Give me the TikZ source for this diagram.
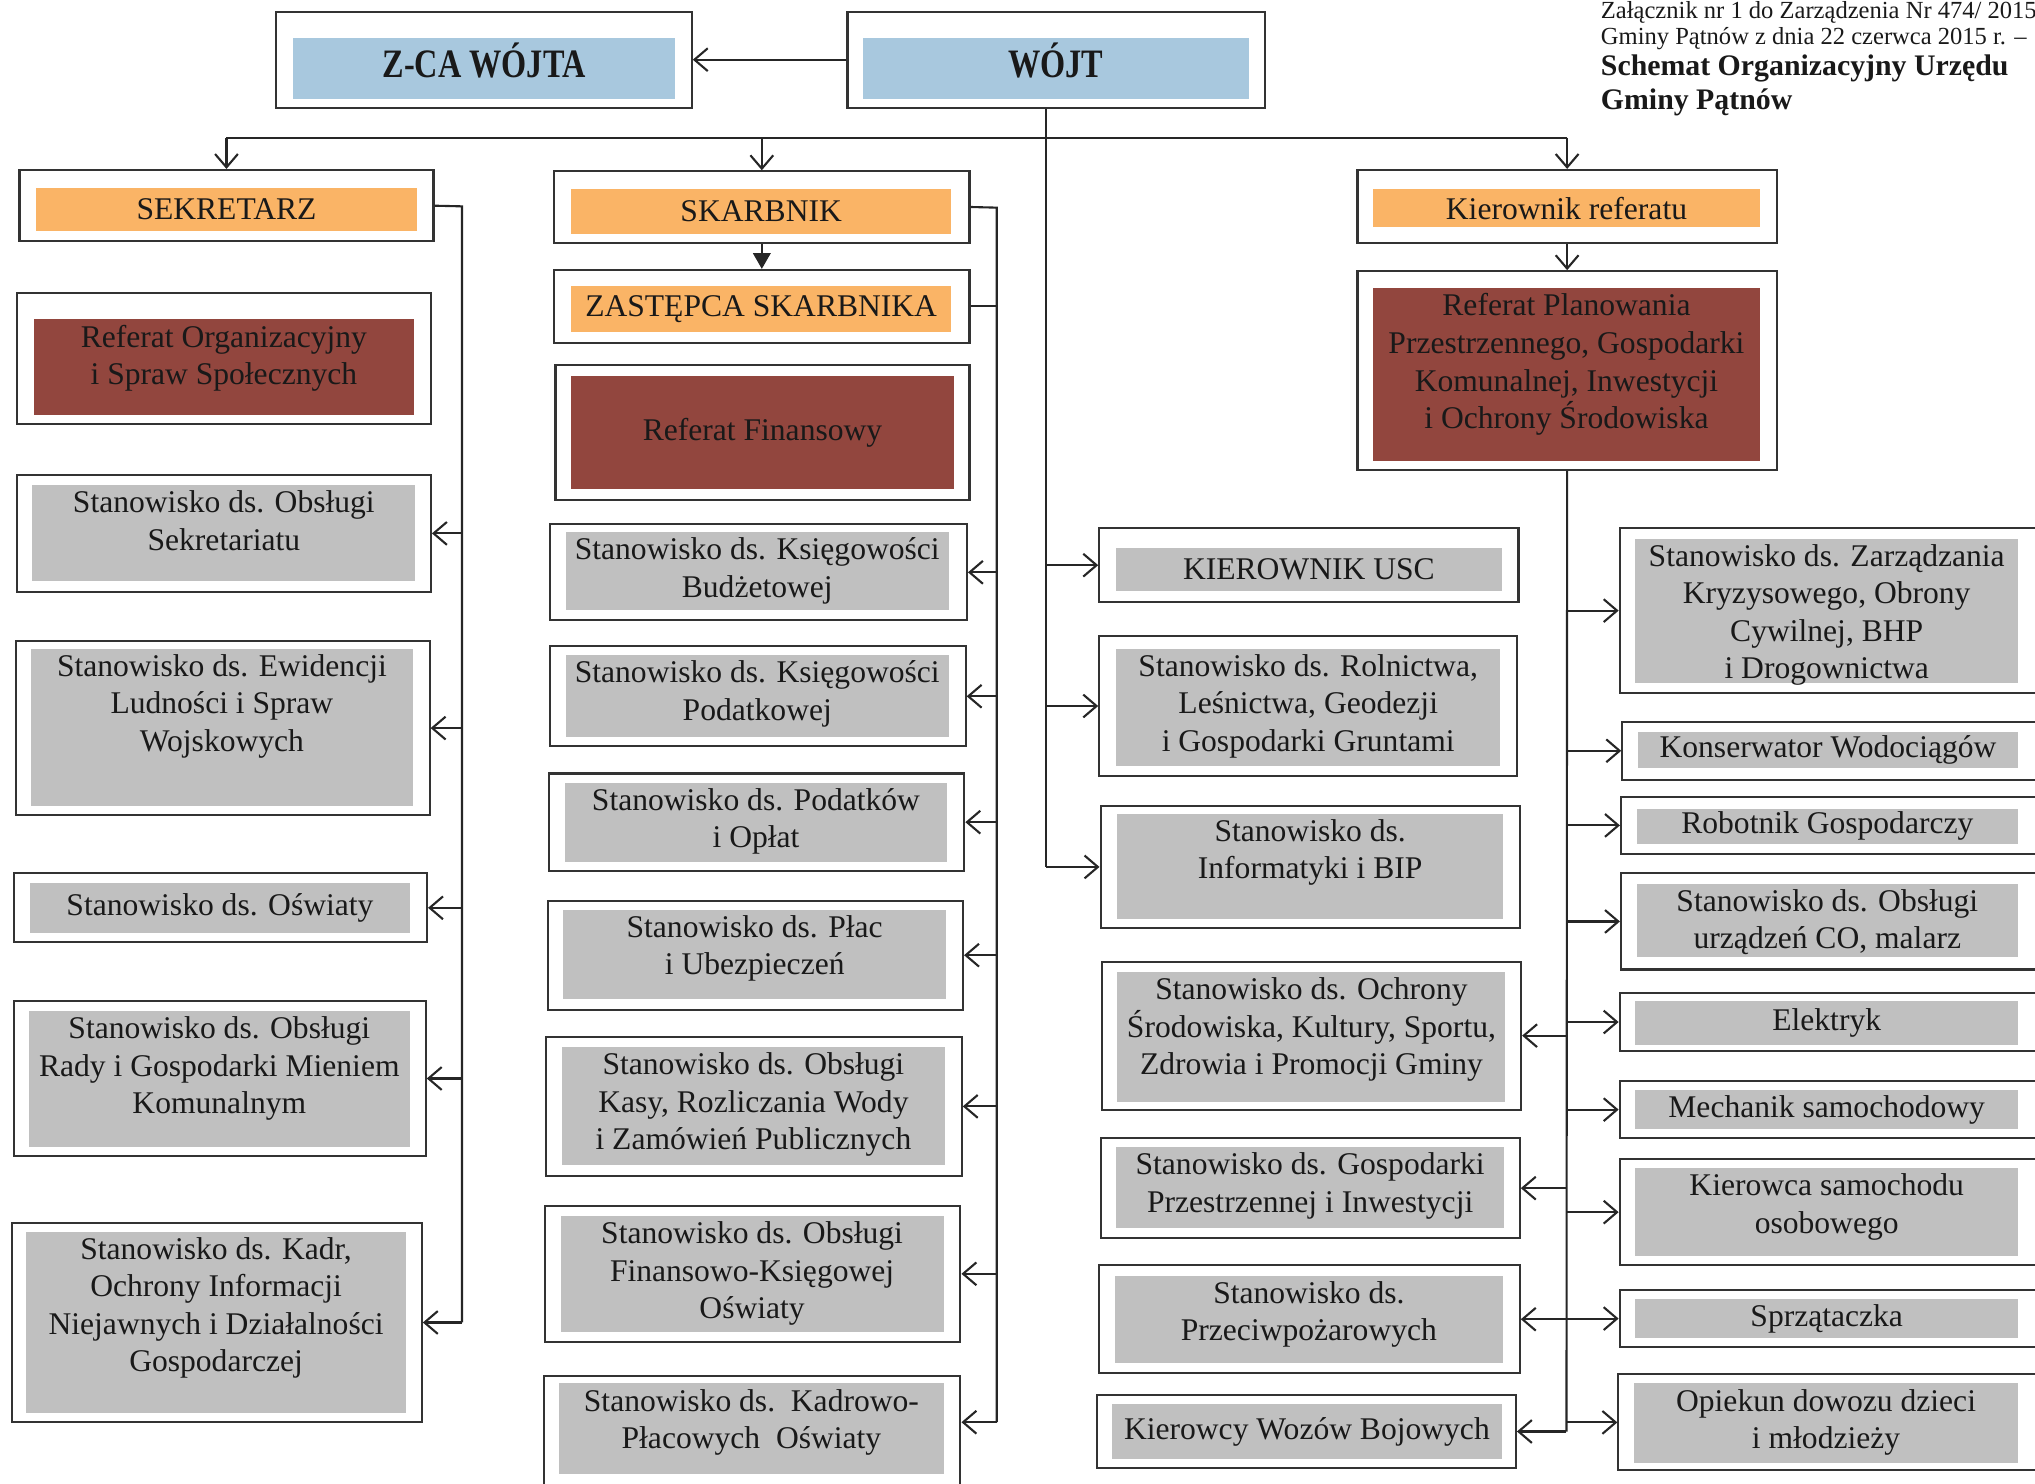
\documentclass[tikz,border=0pt]{standalone}
\usepackage{fontspec}
\setmainfont{Liberation Serif}
\newfontfamily\waskie[FakeStretch=0.8]{Liberation Serif}
\usetikzlibrary{fit,arrows.meta}

\definecolor{niebieski}{RGB}{168,200,222}
\definecolor{pomaranczowy}{RGB}{250,180,102}
\definecolor{brazowy}{RGB}{146,70,62}
\definecolor{szary}{RGB}{192,192,192}

\tikzset{
  ramka/.style={draw=black!80, line width=0.6pt, fill=white, inner sep=0pt},
  pole/.style={inner sep=0pt, draw=none},
  napis/.style={inner sep=1.6pt, align=center, text=black!90, font=\fontsize{9}{10.7}\selectfont},
  linia/.style={draw=black!85, line width=0.6pt},
  strz/.style={linia, -{Straight Barb[length=3.8pt,width=6.5pt]}},
  pelna/.style={linia, -{Triangle[length=4.5pt,width=5pt]}},
  naglowek/.style={anchor=base west, inner sep=0pt, text=black!90},
}

\newcommand\komorka[6][north]{%
  \node[ramka, fit={#3}] (#2) {};
  \node[pole, fill=#5, fit={#4}] (#2-p) {};
  \node[napis, anchor=#1] (#2-t) at (#2-p.#1) {#6};
}

\begin{document}
\begin{tikzpicture}[x=0.013cm, y=-0.013cm]
\useasboundingbox (0,0) rectangle (1568,1143);
\clip (0,0) rectangle (1568,1143);

\node[naglowek, font=\fontsize{7}{8}\selectfont] (zal1) at (1233,14) {Załącznik nr 1 do Zarządzenia Nr 474/ 2015};
\node[naglowek, font=\fontsize{7}{8}\selectfont] (zal2) at (1233,34) {Gminy Pątnów z dnia 22 czerwca 2015 r. –};
\node[naglowek, font=\fontsize{8.5}{9.6}\selectfont\bfseries] (tyt1) at (1233,58) {Schemat Organizacyjny Urzędu};
\node[naglowek, font=\fontsize{8.5}{9.6}\selectfont\bfseries] (tyt2) at (1233,84) {Gminy Pątnów};

\komorka{zca}{(213,9) (533,83)}{(226,29) (520,76)}{niebieski}{\waskie\bfseries\fontsize{11.5}{13}\selectfont Z-CA WÓJTA}
\komorka{wojt}{(653,9) (975,83)}{(665,29) (962,76)}{niebieski}{\waskie\bfseries\fontsize{11.5}{13}\selectfont WÓJT}

\komorka[center]{sekretarz}{(15,131) (334,186)}{(28,145) (321,178)}{pomaranczowy}{SEKRETARZ}
\komorka{refOrg}{(13,226) (332,327)}{(26,246) (319,320)}{brazowy}{Referat Organizacyjny\\i Spraw Społecznych}
\komorka{sekr}{(13,366) (332,456)}{(25,374) (320,448)}{szary}{Stanowisko ds. Obsługi\\Sekretariatu}
\komorka{ewid}{(12,494) (331,628)}{(24,500) (318,621)}{szary}{Stanowisko ds. Ewidencji\\Ludności i Spraw\\Wojskowych}
\komorka[center]{oswiata}{(11,673) (329,726)}{(23,680) (316,719)}{szary}{Stanowisko ds. Oświaty}
\komorka{rada}{(11,771) (328,891)}{(22,779) (316,884)}{szary}{Stanowisko ds. Obsługi\\Rady i Gospodarki Mieniem\\Komunalnym}
\komorka{kadry}{(9,942) (325,1096)}{(20,949) (313,1089)}{szary}{Stanowisko ds. Kadr,\\Ochrony Informacji\\Niejawnych i Działalności\\Gospodarczej}

\komorka[center]{skarbnik}{(427,132) (747,187)}{(440,146) (733,180)}{pomaranczowy}{SKARBNIK}
\komorka[center]{zastepca}{(427,208) (747,264)}{(440,220) (733,256)}{pomaranczowy}{ZASTĘPCA SKARBNIKA}
\komorka[center]{refFin}{(428,281) (747,385)}{(440,290) (735,377)}{brazowy}{Referat Finansowy}
\komorka{budz}{(424,404) (745,478)}{(436,410) (731,470)}{szary}{Stanowisko ds. Księgowości\\Budżetowej}
\komorka{podatk}{(424,498) (744,575)}{(436,505) (731,568)}{szary}{Stanowisko ds. Księgowości\\Podatkowej}
\komorka{oplaty}{(423,596) (743,671)}{(435,603) (730,664)}{szary}{Stanowisko ds. Podatków\\i Opłat}
\komorka{place}{(422,694) (742,778)}{(434,701) (729,770)}{szary}{Stanowisko ds. Płac\\i Ubezpieczeń}
\komorka{kasa}{(421,799) (741,906)}{(433,807) (728,898)}{szary}{Stanowisko ds. Obsługi\\Kasy, Rozliczania Wody\\i Zamówień Publicznych}
\komorka{finOsw}{(420,929) (740,1034)}{(432,937) (727,1026)}{szary}{Stanowisko ds. Obsługi\\Finansowo-Księgowej\\Oświaty}
\komorka{kadrOsw}{(419,1060) (740,1150)}{(431,1066) (727,1136)}{szary}{Stanowisko ds.\ \ Kadrowo-\\Płacowych\ \ Oświaty}

\komorka[center]{usc}{(847,407) (1170,464)}{(860,422) (1157,455)}{szary}{KIEROWNIK USC}
\komorka{rolnictwo}{(847,490) (1169,598)}{(860,500) (1156,590)}{szary}{Stanowisko ds. Rolnictwa,\\Leśnictwa, Geodezji\\i Gospodarki Gruntami}
\komorka{informatyka}{(848,621) (1171,715)}{(861,627) (1158,708)}{szary}{Stanowisko ds.\\Informatyki i BIP}

\komorka[center]{kierRef}{(1046,131) (1369,187)}{(1058,146) (1356,175)}{pomaranczowy}{Kierownik referatu}
\komorka{refPlan}{(1046,209) (1369,362)}{(1058,222) (1356,355)}{brazowy}{Referat Planowania\\Przestrzennego, Gospodarki\\Komunalnej, Inwestycji\\i Ochrony Środowiska}
\komorka{srodowisko}{(849,741) (1172,855)}{(861,749) (1160,849)}{szary}{Stanowisko ds. Ochrony\\Środowiska, Kultury, Sportu,\\Zdrowia i Promocji Gminy}
\komorka{przestrz}{(848,877) (1171,954)}{(860,884) (1159,946)}{szary}{Stanowisko ds. Gospodarki\\Przestrzennej i Inwestycji}
\komorka{ppoz}{(847,975) (1171,1058)}{(859,983) (1158,1050)}{szary}{Stanowisko ds.\\Przeciwpożarowych}
\komorka[center]{wozy}{(845,1075) (1168,1131)}{(857,1082) (1157,1124)}{szary}{Kierowcy Wozów Bojowych}

\komorka{kryzys}{(1248,407) (1580,534)}{(1260,415) (1555,526)}{szary}{Stanowisko ds. Zarządzania\\Kryzysowego, Obrony\\Cywilnej, BHP\\i Drogownictwa}
\komorka[center]{wodociagi}{(1250,556) (1580,601)}{(1262,564) (1555,592)}{szary}{Konserwator Wodociągów}
\komorka[center]{robotnik}{(1249,614) (1580,658)}{(1261,623) (1555,650)}{szary}{Robotnik Gospodarczy}
\komorka{co}{(1249,673) (1580,747)}{(1261,681) (1555,737)}{szary}{Stanowisko ds. Obsługi\\urządzeń CO, malarz}
\komorka[center]{elektryk}{(1248,765) (1580,810)}{(1260,771) (1555,805)}{szary}{Elektryk}
\komorka[center]{mechanik}{(1248,833) (1580,877)}{(1260,840) (1555,870)}{szary}{Mechanik samochodowy}
\komorka{kierowca}{(1248,893) (1580,975)}{(1260,900) (1555,968)}{szary}{Kierowca samochodu\\osobowego}
\komorka[center]{sprzatacz}{(1248,994) (1580,1038)}{(1260,1001) (1555,1031)}{szary}{Sprzątaczka}
\komorka{opiekun}{(1247,1059) (1580,1133)}{(1259,1066) (1555,1127)}{szary}{Opiekun dowozu dzieci\\i młodzieży}

\coordinate (wezel) at (806,106);
\coordinate (sekBus) at (356,159);
\coordinate (skBus) at (768,160);
\coordinate (kBus) at (1207,362);

\draw[strz] (wojt.west) -- (zca.east);
\draw[linia] (wojt.south -| wezel) -- (wezel |- informatyka.west);
\draw[linia] (sekretarz.north |- wezel) -- (kierRef.north |- wezel);
\foreach \n in {sekretarz,skarbnik,kierRef}
  \draw[strz] (\n.north |- wezel) -- (\n.north);
\foreach \n in {usc,rolnictwo,informatyka}
  \draw[strz] (wezel |- \n.west) -- (\n.west);

\draw[linia] (sekretarz.east) -- (sekBus) -- (sekBus |- kadry.east);
\foreach \n in {sekr,ewid,oswiata,rada,kadry}
  \draw[strz] (sekBus |- \n.east) -- (\n.east);

\draw[pelna] (skarbnik.south) -- (zastepca.north);
\draw[linia] (skarbnik.east) -- (skBus) -- (skBus |- kadrOsw-t.east);
\draw[linia] (zastepca.east) -- (skBus |- zastepca.east);
\foreach \n in {budz,podatk,oplaty,place,kasa,finOsw}
  \draw[strz] (skBus |- \n.east) -- (\n.east);
\draw[strz] (skBus |- kadrOsw-t.east) -- (kadrOsw.east |- kadrOsw-t.east);

\draw[strz] (kierRef.south) -- (refPlan.north);
\draw[linia] (refPlan.south) -- (kBus |- wozy.east);
\foreach \n in {srodowisko,przestrz,ppoz,wozy}
  \draw[strz] (kBus |- \n.east) -- (\n.east);
\foreach \n in {kryzys,wodociagi,robotnik,co,elektryk,mechanik,kierowca,sprzatacz,opiekun}
  \draw[strz] (kBus |- \n.west) -- (\n.west);
\end{tikzpicture}
\end{document}
